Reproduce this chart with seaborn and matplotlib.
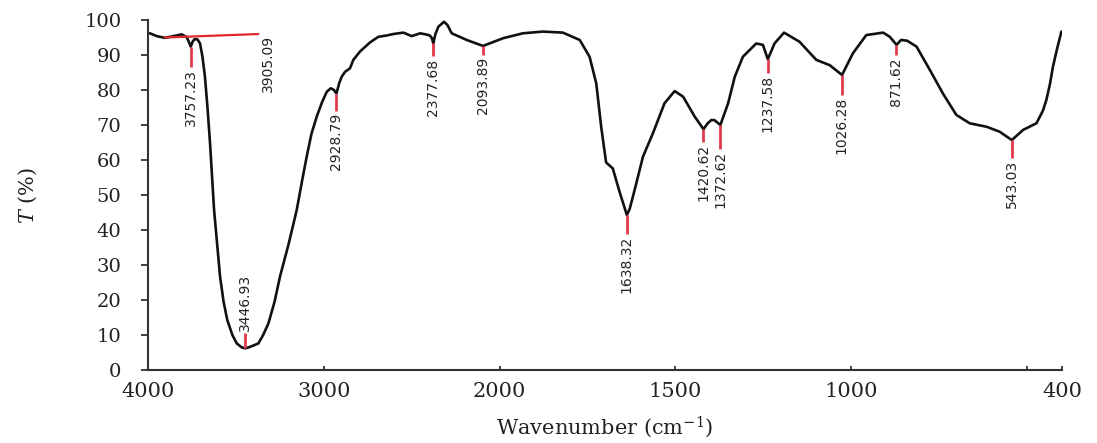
import numpy as np
import pandas as pd
import seaborn as sns
import matplotlib.pyplot as plt

# FTIR spectrum
wavenumber = [4000, 3989, 3950, 3903, 3856, 3808, 3780, 3766, 3757, 3746, 3736, 3719, 3704,
              3690, 3676, 3660, 3647, 3635, 3624, 3605, 3590, 3570, 3549, 3520, 3495, 3465,
              3445, 3425, 3400, 3372, 3345, 3315, 3280, 3249, 3200, 3154, 3120, 3097, 3070,
              3040, 3010, 2983, 2960, 2942, 2928, 2912, 2898, 2879, 2851, 2832, 2794,
              2737, 2690, 2640, 2604, 2547, 2500, 2452, 2410, 2395, 2385, 2377, 2365, 2348,
              2316, 2297, 2272, 2187, 2094, 1990, 1934, 1877, 1820, 1772, 1744, 1725, 1711,
              1697, 1678, 1659, 1645, 1638, 1630, 1616, 1592, 1564, 1531, 1502, 1478, 1445,
              1420, 1408, 1398, 1389, 1372, 1350, 1331, 1308, 1270, 1251, 1237, 1218, 1191,
              1147, 1099, 1061, 1026, 995, 957, 909, 890, 871, 858, 841, 814, 776, 739, 701,
              663, 615, 578, 543, 511, 473, 455, 445, 435, 426, 415, 402]
transmittance = [96.3, 96.2, 95.4, 94.9, 95.4, 95.9, 95.1, 93.6, 92.4, 93.8, 94.5, 94.5, 93.3,
                 89.5, 83.8, 74.0, 64.8, 55.0, 45.7, 35.0, 26.7, 19.5, 14.3, 10.0, 7.6, 6.4,
                 6.2, 6.5, 7.0, 7.6, 10.0, 13.3, 19.5, 26.7, 36.0, 45.7, 55.0, 61.0, 67.5,
                 72.4, 76.5, 79.5, 80.5, 80.0, 79.0, 82.0, 83.8, 85.2, 86.2, 88.6, 91.0,
                 93.6, 95.2, 95.6, 96.0, 96.4, 95.4, 96.2, 95.8, 95.5, 94.8, 93.3, 96.0, 98.1,
                 99.5, 98.6, 96.2, 94.3, 92.6, 94.8, 96.2, 96.7, 96.4, 94.3, 89.5, 81.9, 69.5,
                 59.3, 57.6, 51.0, 46.5, 44.3, 46.0, 51.4, 61.0, 67.6, 76.2, 79.7, 78.1, 72.4,
                 68.8, 70.5, 71.4, 71.4, 70.0, 76.2, 83.8, 89.5, 93.3, 92.9, 88.8, 93.3, 96.4,
                 93.8, 88.6, 87.1, 84.3, 90.5, 95.7, 96.4, 95.2, 92.9, 94.3, 94.1, 92.4, 85.7,
                 79.0, 72.9, 70.5, 69.5, 68.1, 65.7, 68.6, 70.5, 74.0, 77.1, 81.5, 86.7, 91.5, 96.7]

peak_wn = [3757.23, 3446.93, 2928.79, 2377.68, 2093.89, 1638.32, 1420.62, 1372.62,
           1237.58, 1026.28, 871.62, 543.03]
peak_t = [92.4, 6.2, 79.0, 93.3, 92.6, 44.3, 68.8, 70.0, 88.8, 84.3, 92.9, 65.7]
peak_labels = ['3757.23', '3446.93', '2928.79', '2377.68', '2093.89', '1638.32', '1420.62',
               '1372.62', '1237.58', '1026.28', '871.62', '543.03']
# length of the red tick below each band (negative = drawn upwards)
peak_len = [5.7, -4.3, 4.9, 3.7, 2.6, 5.4, 3.7, 6.9, 4.0, 5.7, 2.9, 5.1]

x_ticks = [4000, 3000, 2000, 1500, 1000, 500, 400]
x_tick_labels = ['4000', '3000', '2000', '1500', '1000', '', '400']

red = '#e23a4c'


def fwd(x):
    x = np.asarray(x, dtype=float)
    return np.where(x > 2000, 2000 + (x - 2000) / 2.0, x)


def inv(p):
    p = np.asarray(p, dtype=float)
    return np.where(p > 2000, 2000 + (p - 2000) * 2.0, p)


sns.set_style('ticks')
plt.rcParams['font.family'] = ['DejaVu Serif']
plt.rcParams['mathtext.fontset'] = 'dejavuserif'

df = pd.DataFrame({'wn': wavenumber, 'T': transmittance})

fig = plt.figure(figsize=(10.97, 4.43), dpi=100)
ax = fig.add_axes([0.1349, 0.1648, 0.8333, 0.79])
sns.lineplot(data=df, x='wn', y='T', ax=ax, color='#111111', linewidth=1.9, sort=False)

ax.set_xscale('function', functions=(fwd, inv))
ax.set_xlim(4000, 400)
ax.set_ylim(0, 100)
ax.set_xticks(x_ticks)
ax.set_xticklabels(x_tick_labels)
ax.set_yticks(range(0, 101, 10))
ax.minorticks_off()

lab_font = dict(family=['DejaVu Sans Condensed', 'DejaVu Sans'], fontsize=10, color='#222222')
for wn, t, lab, ln in zip(peak_wn, peak_t, peak_labels, peak_len):
    end = t - ln
    ax.plot([wn, wn], [t, end], color=red, linewidth=2, solid_capstyle='butt')
    if ln > 0:
        ax.text(wn, end - 0.6, lab, rotation=90, ha='center', va='top', **lab_font)
    else:
        ax.text(wn, end + 0.6, lab, rotation=90, ha='center', va='bottom', **lab_font)

# 3905.09 band marked by a horizontal bar
ax.plot([3903, 3372], [95.0, 96.0], color='#e02828', linewidth=1.6)
ax.text(3315, 95.8, '3905.09', rotation=90, ha='center', va='top', **lab_font)

sns.despine(ax=ax)
for s in ['left', 'bottom']:
    ax.spines[s].set_linewidth(1.5)
    ax.spines[s].set_color('#333333')
ax.tick_params(axis='y', direction='out', length=5, width=1.2, pad=14, labelsize=14, colors='#222222')
ax.tick_params(axis='x', direction='in', length=3, width=1.2, pad=9, labelsize=15, colors='#222222')

ax.set_xlabel('Wavenumber (cm$^{-1}$)', fontsize=15, labelpad=9, color='#222222')
ax.set_ylabel('$T$ (%)', fontsize=15, labelpad=33, color='#222222')

fig.savefig('out.png', dpi=100)
